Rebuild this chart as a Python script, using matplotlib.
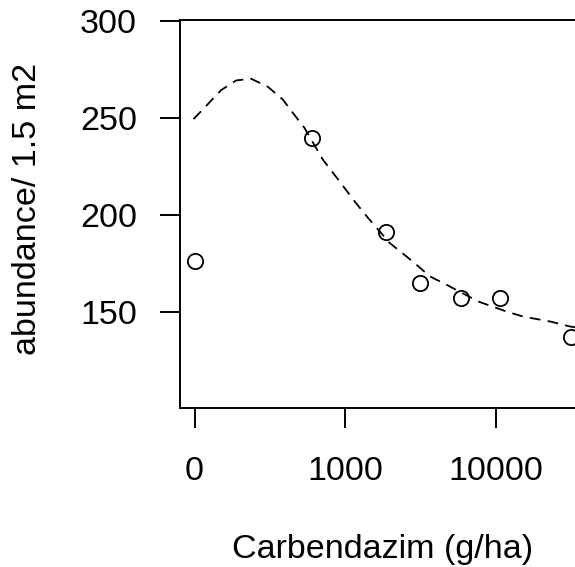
import matplotlib
matplotlib.use("Agg")
import matplotlib.pyplot as plt

# positions on the dose axis (0 -> "0", 1 -> "1000", 2 -> "10000")
dose_pos = [0.0, 0.78, 1.27, 1.50, 1.77, 2.03, 2.50]
abundance = [176.1, 239.7, 191.2, 164.9, 157.5, 157.5, 137.1]

# fitted curve (dashed)
fit_pos = [-0.007, 0.087, 0.176, 0.276, 0.375, 0.486, 0.586, 0.652, 0.730, 0.852,
           0.963, 1.063, 1.152, 1.296, 1.407, 1.474, 1.563, 1.674, 1.884, 2.073,
           2.184, 2.362, 2.495, 2.60]
fit_val = [249.3, 256.9, 264.2, 269.2, 270.1, 266.0, 259.4, 252.6, 244.8, 228.5,
           217.3, 207.0, 198.5, 185.6, 178.7, 174.4, 168.4, 164.1, 155.5, 150.3,
           147.7, 145.2, 142.6, 141.5]

xtick_pos = [0, 1, 2]
xtick_labels = ["0", "1000", "10000"]
ytick_vals = [150, 200, 250, 300]

plt.rcParams['font.family'] = ['Liberation Sans', 'DejaVu Sans']
fs = 24.5

W, H = 575, 567
fig = plt.figure(figsize=(W / 100, H / 100), dpi=100)
left, right, top, bottom = 179.5, 586, 20, 408
ax = fig.add_axes([left / W, 1 - bottom / H, (right - left) / W, (bottom - top) / H])

ax.plot(fit_pos, fit_val, color='black', lw=1.3, dashes=(6, 4))
ax.plot(dose_pos, abundance, 'o', mfc='none', mec='black', ms=11, mew=1.3, clip_on=False)

ax.set_xlim(-0.1, 2.6)
ax.set_ylim(100.7, 300.3)
ax.set_xticks(xtick_pos)
ax.set_xticklabels(xtick_labels)
ax.set_yticks(ytick_vals)
ax.tick_params(axis='both', labelsize=fs, length=14.5, width=1.4, color='black')
ax.tick_params(axis='x', pad=20)
ax.tick_params(axis='y', pad=16)
for s in ax.spines.values():
    s.set_linewidth(1.4)

fig.text(382.5 / W, 1 - 558 / H, "Carbendazim (g/ha)", ha='center', va='baseline', fontsize=fs)
fig.text(28 / W, 1 - 209 / H, "abundance/ 1.5 m2", ha='center', va='center', rotation=90, fontsize=fs)

fig.savefig("out.png", dpi=100)
